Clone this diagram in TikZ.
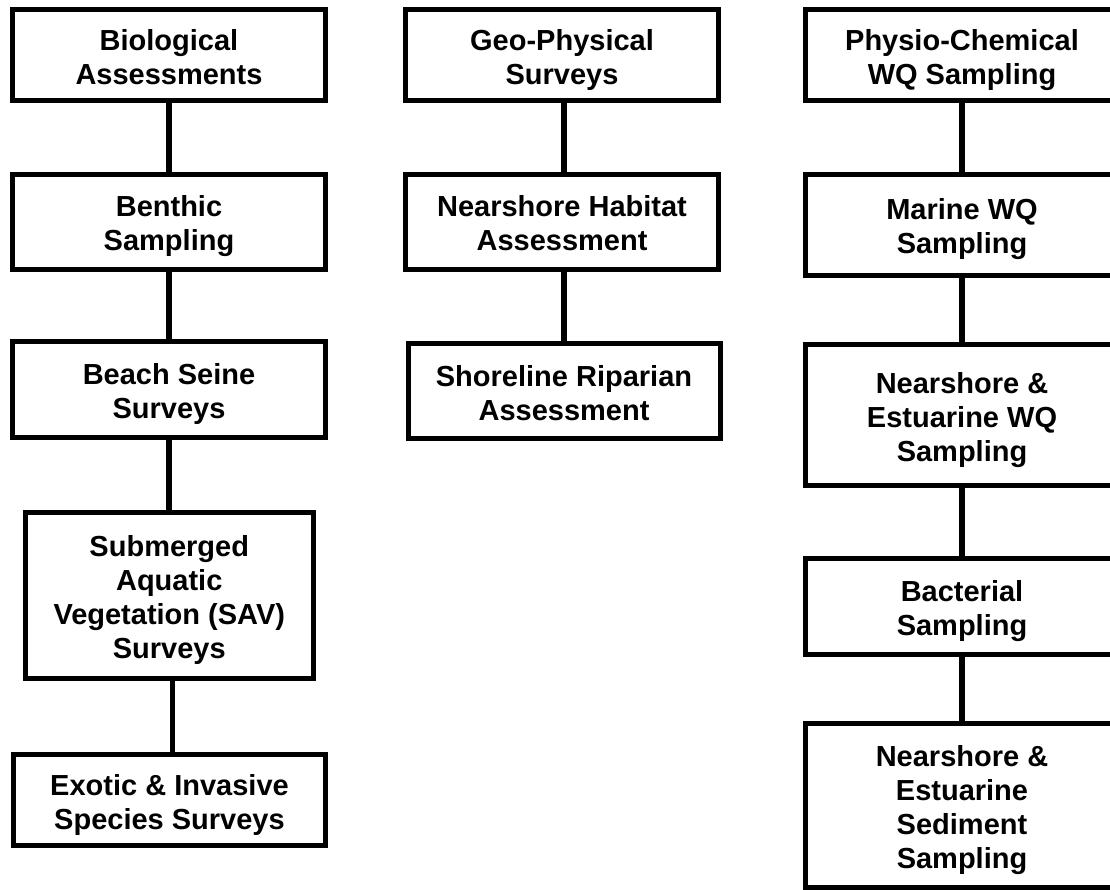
\documentclass[tikz,border=0pt]{standalone}
\usepackage{fontspec}
\setmainfont{Liberation Sans}
\begin{document}
\begin{tikzpicture}[x=1pt,y=-1pt,
  box/.style={draw=black, line width=5pt, rectangle, inner sep=0pt, align=center,
    text height=58pt, text depth=0pt,
    font=\bfseries\fontsize{29}{34}\selectfont},
  threelines/.style={text height=92pt},
  fourlines/.style={text height=126pt},
  link/.style={draw=black, line width=5.5pt}]
\useasboundingbox (0,0) rectangle (1110,890);
\clip (0,0) rectangle (1110,890);

% Biological column
\node[box, minimum width=313, minimum height=91]  (bio)     at (169,55.5)   {Biological\\Assessments};
\node[box, minimum width=313, minimum height=95]  (benthic) at (169,222)    {Benthic\\Sampling};
\node[box, minimum width=313, minimum height=96]  (beach)   at (169,389.5)  {Beach Seine\\Surveys};
\node[box, fourlines, minimum width=287.5, minimum height=166] (sav) at (169.25,595) {Submerged\\Aquatic\\Vegetation (SAV)\\Surveys};
\node[box, minimum width=312, minimum height=91]  (exotic)  at (169.5,800)  {Exotic \& Invasive\\Species Surveys};

% Geo-physical column
\node[box, minimum width=312.5, minimum height=91] (geo)     at (562,55.5) {Geo-Physical\\Surveys};
\node[box, minimum width=313, minimum height=95]   (habitat) at (562,222)  {Nearshore Habitat\\Assessment};
\node[box, minimum width=312, minimum height=95]   (shore)   at (564,391)  {Shoreline Riparian\\Assessment};

% Physio-chemical column
\node[box, minimum width=313, minimum height=91]  (physio) at (962,55.5)  {Physio-Chemical\\WQ Sampling};
\node[box, minimum width=313, minimum height=101] (marine) at (962,225)   {Marine WQ\\Sampling};
\node[box, threelines, minimum width=313, minimum height=141] (newq) at (962,415) {Nearshore \&\\Estuarine WQ\\Sampling};
\node[box, minimum width=313, minimum height=96]  (bact)   at (962,606.5) {Bacterial\\Sampling};
\node[box, fourlines, minimum width=313, minimum height=164] (sed) at (962,805.5) {Nearshore \&\\Estuarine\\Sediment\\Sampling};

% Connectors
\draw[link] (bio.south)     -- (bio.south |- benthic.north);
\draw[link] (benthic.south) -- (benthic.south |- beach.north);
\draw[link] (beach.south)   -- (beach.south |- sav.north);
\draw[link] ([xshift=3]sav.south) -- ([xshift=3]sav.south |- exotic.north);

\draw[link] ([xshift=2]geo.south)     -- ([xshift=2]geo.south |- habitat.north);
\draw[link] ([xshift=2]habitat.south) -- ([xshift=2]habitat.south |- shore.north);

\draw[link] (physio.south) -- (physio.south |- marine.north);
\draw[link] (marine.south) -- (marine.south |- newq.north);
\draw[link] (newq.south)   -- (newq.south |- bact.north);
\draw[link] (bact.south)   -- (bact.south |- sed.north);
\end{tikzpicture}
\end{document}
